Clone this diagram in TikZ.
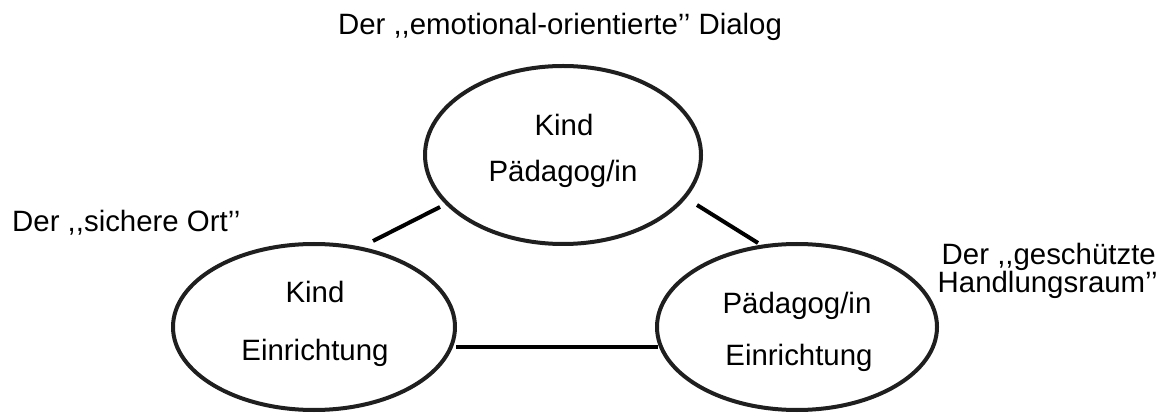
\documentclass[tikz,border=0pt]{standalone}
\usepackage{fontspec}
\setmainfont{Liberation Sans}
\usetikzlibrary{shapes.geometric}
\begin{document}
\begin{tikzpicture}[x=1pt,y=-1pt,
  circ/.style={draw=black!88, line width=4pt, ellipse},
  lbl/.style={font=\fontsize{29.4}{29.4}\selectfont, inner sep=0pt, anchor=base},
  link/.style={line width=4pt, black}]
\useasboundingbox (0,0) rectangle (1166,419);
\node[circ, minimum width=276pt, minimum height=178pt] (top) at (563,155) {};
\node[circ, minimum width=282pt, minimum height=166pt] (left) at (314,327) {};
\node[circ, minimum width=280pt, minimum height=166pt] (right) at (797,327) {};
\node[lbl] (t1) at (564,136) {Kind};
\node[lbl] (t2) at (563,182) {Pädagog/in};
\node[lbl] (l1) at (315,302) {Kind};
\node[lbl] (l2) at (315,360) {Einrichtung};
\node[lbl] (r1) at (797,313) {Pädagog/in};
\node[lbl] (r2) at (799,365) {Einrichtung};
\node[lbl] (title) at (560,35) {Der {,}{,}emotional-orientierte{'}{'} Dialog};
\node[lbl, anchor=base west] (ort) at (12,232) {Der {,}{,}sichere Ort{'}{'}};
\node[lbl, anchor=base east] (raum1) at (1156,265) {Der {,}{,}geschützte};
\node[lbl, anchor=base east] (raum2) at (1158,293) {Handlungsraum{'}{'}};
\coordinate (a1) at (373,241); \coordinate (a2) at (440,207);
\coordinate (b1) at (697,205); \coordinate (b2) at (758,243);
\draw[link] (a1) -- (a2);
\draw[link] (b1) -- (b2);
\coordinate (c1) at (456,347); \coordinate (c2) at (658,347);
\draw[link] (c1) -- (c2);
\end{tikzpicture}
\end{document}
